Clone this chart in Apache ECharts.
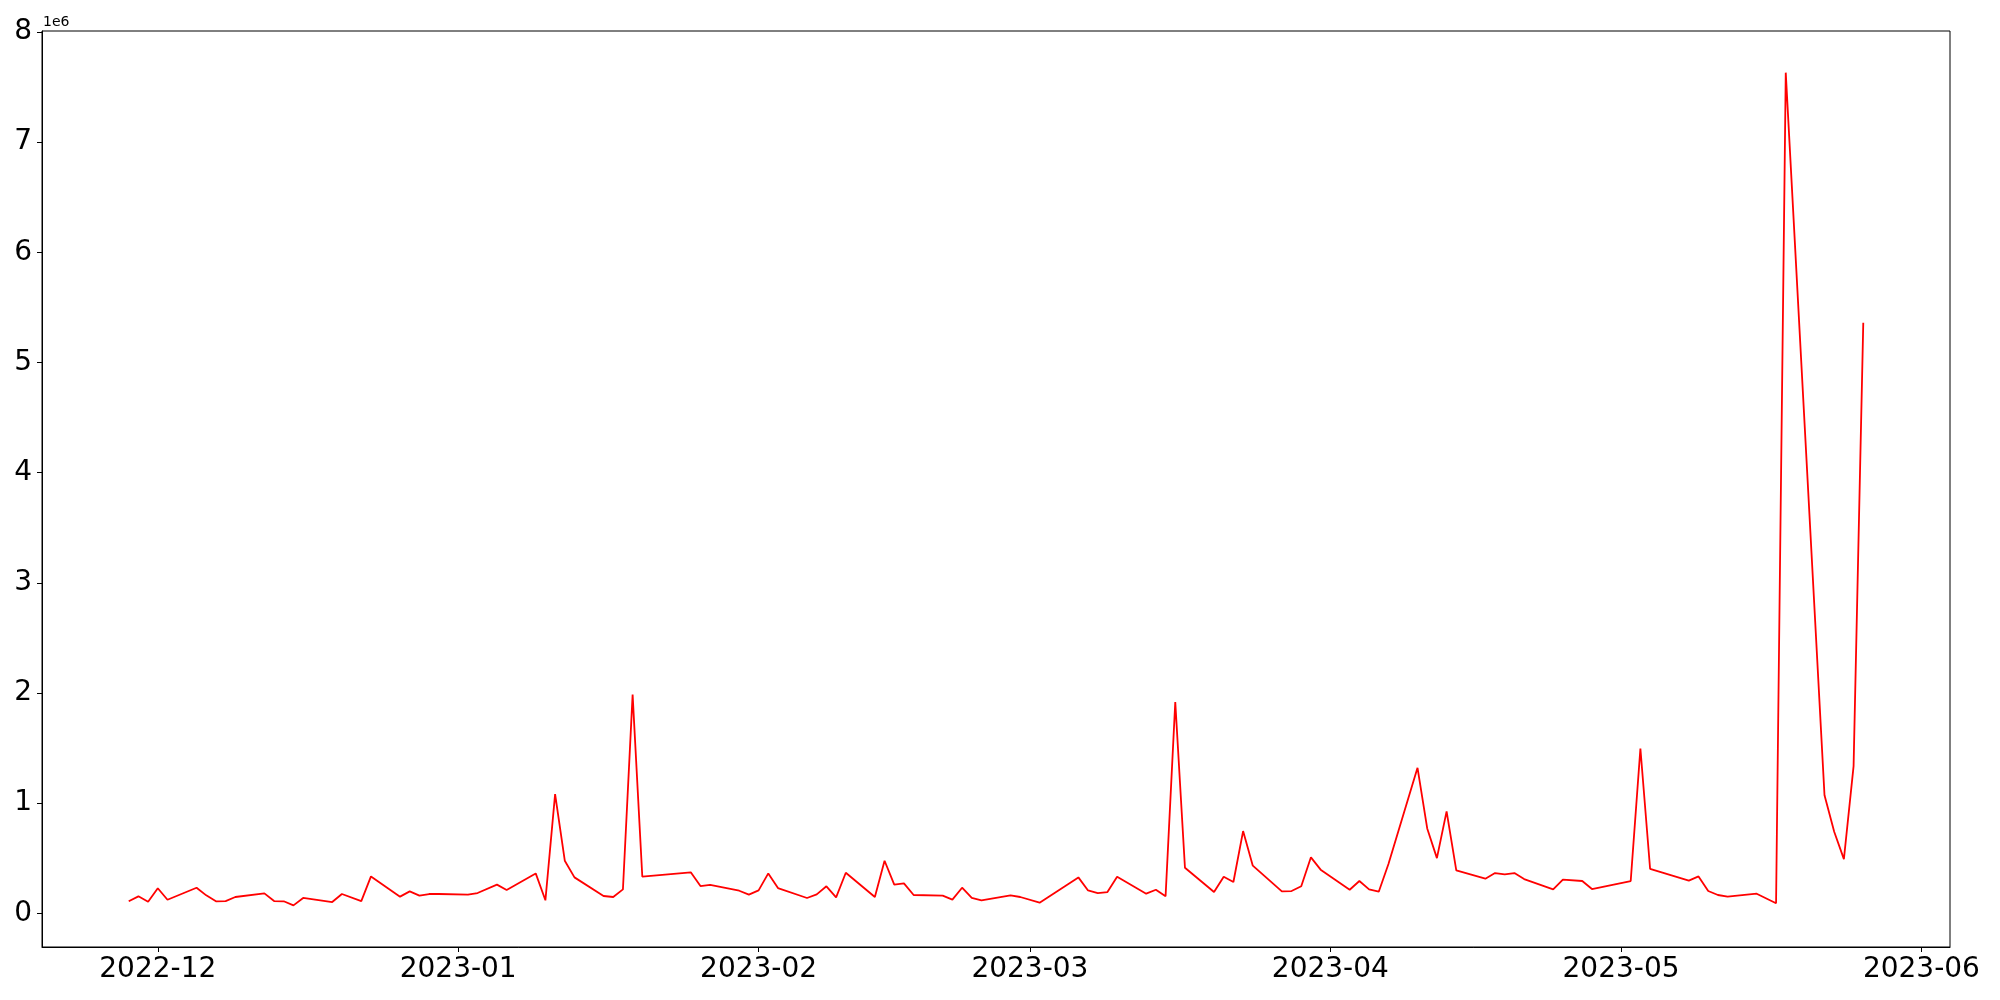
<!DOCTYPE html>
<html>
<head>
<meta charset="utf-8">
<script src="https://cdn.jsdelivr.net/npm/echarts@6/dist/echarts.min.js"></script>
<style>
  html, body { margin: 0; padding: 0; background: #fff; }
  #chart { width: 2000px; height: 1000px; }
</style>
</head>
<body>
<div id="chart"></div>
<script>
// daily values (gaps = days with no point)
const dates = [
  '2022-11-28', '2022-11-29', '2022-11-30', '2022-12-01', '2022-12-02',
  '2022-12-05', '2022-12-06', '2022-12-07', '2022-12-08', '2022-12-09',
  '2022-12-12', '2022-12-13', '2022-12-14', '2022-12-15', '2022-12-16',
  '2022-12-19', '2022-12-20', '2022-12-22', '2022-12-23',
  '2022-12-26', '2022-12-27', '2022-12-28', '2022-12-29', '2022-12-30',
  '2023-01-02', '2023-01-03', '2023-01-05', '2023-01-06',
  '2023-01-09', '2023-01-10', '2023-01-11', '2023-01-12', '2023-01-13',
  '2023-01-16', '2023-01-17', '2023-01-18', '2023-01-19', '2023-01-20',
  '2023-01-25', '2023-01-26', '2023-01-27',
  '2023-01-30', '2023-01-31', '2023-02-01', '2023-02-02', '2023-02-03',
  '2023-02-06', '2023-02-07', '2023-02-08', '2023-02-09', '2023-02-10',
  '2023-02-13', '2023-02-14', '2023-02-15', '2023-02-16', '2023-02-17',
  '2023-02-20', '2023-02-21', '2023-02-22', '2023-02-23', '2023-02-24',
  '2023-02-27', '2023-02-28', '2023-03-02',
  '2023-03-06', '2023-03-07', '2023-03-08', '2023-03-09', '2023-03-10',
  '2023-03-13', '2023-03-14', '2023-03-15', '2023-03-16', '2023-03-17',
  '2023-03-20', '2023-03-21', '2023-03-22', '2023-03-23', '2023-03-24',
  '2023-03-27', '2023-03-28', '2023-03-29', '2023-03-30', '2023-03-31',
  '2023-04-03', '2023-04-04', '2023-04-05', '2023-04-06', '2023-04-07',
  '2023-04-10', '2023-04-11', '2023-04-12', '2023-04-13', '2023-04-14',
  '2023-04-17', '2023-04-18', '2023-04-19', '2023-04-20', '2023-04-21',
  '2023-04-24', '2023-04-25', '2023-04-27', '2023-04-28',
  '2023-05-02', '2023-05-03', '2023-05-04',
  '2023-05-08', '2023-05-09', '2023-05-10', '2023-05-11', '2023-05-12',
  '2023-05-15', '2023-05-17', '2023-05-18',
  '2023-05-22', '2023-05-23', '2023-05-24', '2023-05-25', '2023-05-26'
]
const values = [
  109000, 154000, 105000, 227000, 123000,
  232000, 163000, 109000, 111000, 148000,
  181000, 111000, 109000, 72000, 139000,
  102000, 175000, 110000, 335000,
  151000, 199000, 160000, 175000, 175000,
  169000, 184000, 260000, 211000,
  362000, 118000, 1082000, 477000, 326000,
  157000, 148000, 217000, 1985000, 332000,
  372000, 247000, 257000,
  205000, 169000, 208000, 362000, 229000,
  139000, 172000, 245000, 145000, 368000,
  148000, 477000, 260000, 272000, 166000,
  160000, 124000, 232000, 139000, 118000,
  163000, 148000, 96000,
  326000, 207000, 184000, 193000, 332000,
  178000, 214000, 154000, 1918000, 413000,
  193000, 332000, 284000, 746000, 432000,
  199000, 202000, 245000, 508000, 396000,
  214000, 293000, 217000, 196000, 447000,
  1320000, 770000, 501000, 925000, 390000,
  314000, 365000, 353000, 365000, 311000,
  217000, 305000, 293000, 220000,
  293000, 1496000, 404000,
  296000, 335000, 202000, 166000, 151000,
  178000, 91000, 7630000,
  1072000, 740000, 492000, 1335000, 5360000
]
const monthTicks = ['2022-12-01', '2023-01-01', '2023-02-01', '2023-03-01', '2023-04-01', '2023-05-01', '2023-06-01']
const monthLabels = ['2022-12', '2023-01', '2023-02', '2023-03', '2023-04', '2023-05', '2023-06']
const yTicks = [0, 1e6, 2e6, 3e6, 4e6, 5e6, 6e6, 7e6, 8e6]

const toTime = s => Date.parse(s + 'T00:00:00Z')
const times = dates.map(toTime)
const tickTimes = monthTicks.map(toTime)

// matplotlib-like 5% margins
const xSpan = times[times.length - 1] - times[0]
const xMin = times[0] - xSpan * 0.05
const xMax = times[times.length - 1] + xSpan * 0.05
const vMin = Math.min(...values)
const vMax = Math.max(...values)
const yMin = vMin - (vMax - vMin) * 0.05
const yMax = vMax + (vMax - vMin) * 0.05

const font = 'DejaVu Sans'
const chart = echarts.init(document.getElementById('chart'))
chart.setOption({
  animation: false,
  backgroundColor: '#fff',
  grid: {
    left: 42,
    right: 50,
    top: 31,
    bottom: 53,
    show: true,
    borderColor: '#000',
    borderWidth: 1,
    containLabel: false
  },
  xAxis: {
    type: 'value',
    min: xMin,
    max: xMax,
    splitLine: { show: false },
    axisLine: { show: true, onZero: false, lineStyle: { color: '#000', width: 1 } },
    axisTick: {
      show: true,
      inside: false,
      length: 5,
      customValues: tickTimes,
      lineStyle: { color: '#000', width: 1 }
    },
    axisLabel: {
      customValues: tickTimes,
      margin: 9,
      fontFamily: font,
      fontSize: 28,
      color: '#000',
      formatter: function (v) {
        const i = tickTimes.indexOf(v)
        return i >= 0 ? monthLabels[i] : ''
      }
    }
  },
  yAxis: {
    type: 'value',
    min: yMin,
    max: yMax,
    // offset text of the axis, as matplotlib puts it
    name: '1e6',
    nameLocation: 'end',
    nameGap: 2,
    nameTextStyle: {
      fontFamily: font,
      fontSize: 14,
      color: '#000',
      align: 'left',
      verticalAlign: 'bottom',
      padding: [0, 0, 0, 1]
    },
    splitLine: { show: false },
    axisLine: { show: true, onZero: false, lineStyle: { color: '#000', width: 1 } },
    axisTick: {
      show: true,
      inside: false,
      length: 5,
      customValues: yTicks,
      lineStyle: { color: '#000', width: 1 }
    },
    axisLabel: {
      customValues: yTicks,
      margin: 10,
      fontFamily: font,
      fontSize: 28,
      color: '#000',
      formatter: function (v) { return String(Math.round(v / 1e6)) }
    }
  },
  series: [{
    type: 'line',
    data: times.map((t, i) => [t, values[i]]),
    showSymbol: false,
    symbol: 'none',
    lineStyle: { color: '#ff0000', width: 1.8 },
    itemStyle: { color: '#ff0000' }
  }]
})
</script>
</body>
</html>
